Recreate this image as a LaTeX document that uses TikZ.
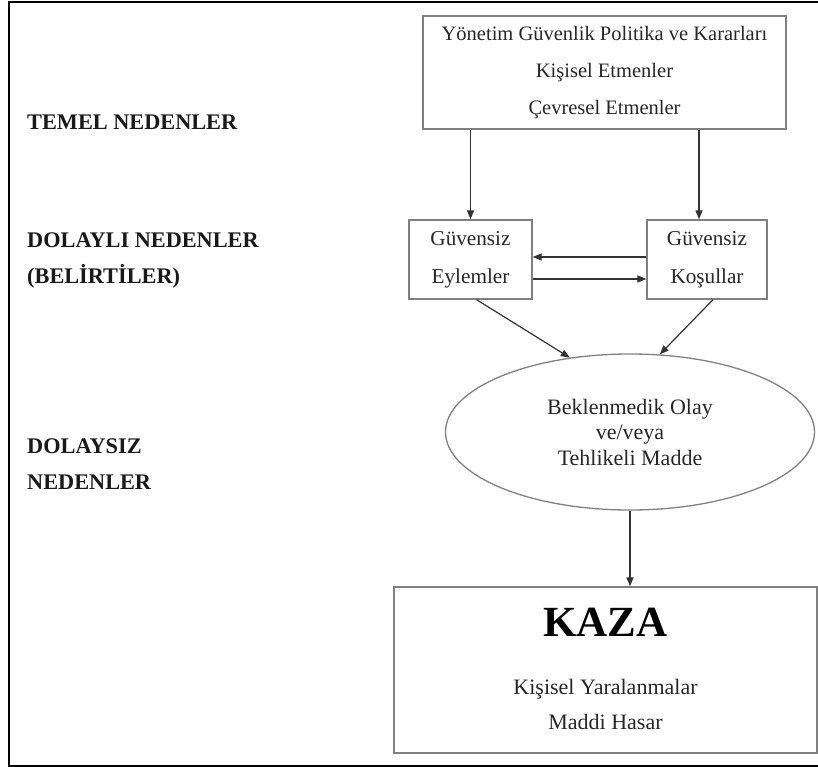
\documentclass[tikz,border=0pt]{standalone}
\usepackage{fontspec}
\setmainfont{Liberation Serif}
\usetikzlibrary{arrows.meta,shapes.geometric}
\begin{document}
\begin{tikzpicture}[x=1pt,y=-1pt,
  kutu/.style={draw=black!50,line width=1.3pt,align=center,inner sep=0pt,font=\fontsize{20.5}{37}\selectfont,text=black!85},
  baslik/.style={anchor=west,align=left,inner sep=0pt,font=\fontsize{22.3}{36}\selectfont\bfseries,text=black!90},
  ok/.style={draw=black!80,line width=1.2pt,-{Triangle[length=9pt,width=7pt]}}]
\useasboundingbox (0,0) rectangle (818,767);
\draw[line width=2pt] (818,2) -- (8.5,2) -- (8.5,765.5) -- (818,765.5);
\node[baslik] (temel) at (27,122) {TEMEL NEDENLER};
\node[baslik] (dolayli) at (27,260) {DOLAYLI NEDENLER\\(BELİRTİLER)};
\node[baslik] (dolaysiz) at (27,464) {DOLAYSIZ\\NEDENLER};
\node[kutu,minimum width=363pt,minimum height=113pt] (ust) at (604.5,72.5)
  {Yönetim Güvenlik Politika ve Kararları\\Kişisel Etmenler\\Çevresel Etmenler};
\node[kutu,minimum width=123pt,minimum height=79pt,font=\fontsize{21.2}{38}\selectfont] (eylem) at (470.5,259.5) {Güvensiz\\Eylemler};
\node[kutu,minimum width=120pt,minimum height=79pt,font=\fontsize{21.2}{38}\selectfont] (kosul) at (707,259.5) {Güvensiz\\Koşullar};
\node[kutu,ellipse,minimum width=369pt,minimum height=156pt,font=\fontsize{22}{25.5}\selectfont] (olay) at (630,432)
  {Beklenmedik Olay\\ve/veya\\Tehlikeli Madde};
\node[kutu,minimum width=423pt,minimum height=166pt] (kaza) at (605.5,670) {};
\node[font=\fontsize{43}{43}\selectfont\bfseries,text=black] (kazabas) at (605.5,622) {KAZA};
\node[align=center,font=\fontsize{22}{35}\selectfont,text=black!85] (kazaalt) at (605.5,704)
  {Kişisel Yaralanmalar\\Maddi Hasar};
\draw[ok] (ust.south -| eylem.north) -- (eylem.north);
\draw[ok] ([xshift=-8pt]ust.south -| kosul.north) -- ([xshift=-8pt]kosul.north);
\draw[ok] ([yshift=2.5pt]kosul.west) -- ([yshift=2.5pt]eylem.east);
\draw[ok] ([yshift=-19.5pt]eylem.east) -- ([yshift=-19.5pt]kosul.west);
\draw[ok] ([xshift=6pt]eylem.south) -- (olay.129);
\draw[ok] ([xshift=6pt]kosul.south) -- (olay.69);
\draw[ok] (olay.south) -- (olay.south |- kaza.north);
\end{tikzpicture}
\end{document}
